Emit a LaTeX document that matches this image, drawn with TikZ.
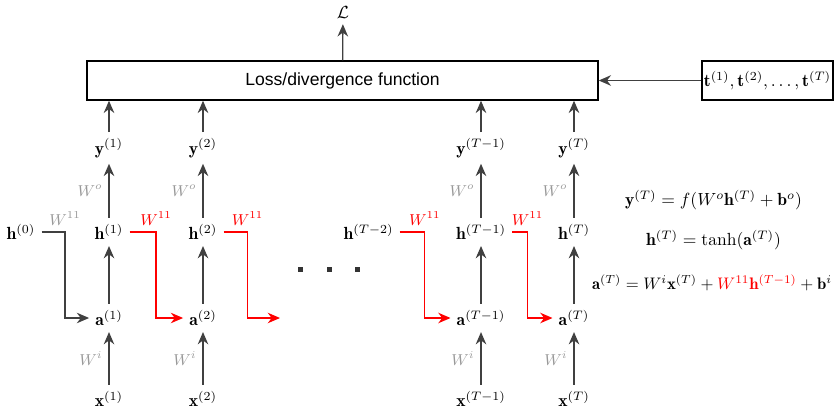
\documentclass[tikz,border=0pt]{standalone}
\usepackage{amsmath, amssymb, bm}
\usepackage{fontspec}
\newfontfamily\losssans{Liberation Sans}
\usetikzlibrary{positioning, arrows.meta, calc}

\begin{document}
\begin{tikzpicture}[
			boxnode/.style={draw, thick, rectangle, minimum height=0.78cm, align=center},
			arrow/.style={-{Stealth[length=7pt, width=6pt]}, line width=0.75pt, black!75},
			recarrow/.style={-{Stealth[length=7pt, width=6pt]}, line width=0.75pt, red},
			wlabel/.style={font=\small, text=black!40},
			rlabel/.style={font=\small, text=red},
			dotbox/.style={fill=black!80, minimum size=0.1cm, inner sep=0pt}
			]
			\useasboundingbox (0,0) rectangle (16.72,8.22);
			
			% Inputs
			\node (x1) at (2.18, 0.24) {$\mathbf{x}^{(1)}$};
			\node (x2) at (4.06, 0.24) {$\mathbf{x}^{(2)}$};
			\node (x3) at (9.62, 0.24) {$\mathbf{x}^{(T-1)}$};
			\node (x4) at (11.48, 0.24) {$\mathbf{x}^{(T)}$};
			
			% Pre-activations
			\node (a1) at (2.18, 1.86) {$\mathbf{a}^{(1)}$};
			\node (a2) at (4.06, 1.86) {$\mathbf{a}^{(2)}$};
			\node (a3) at (9.62, 1.86) {$\mathbf{a}^{(T-1)}$};
			\node (a4) at (11.48, 1.86) {$\mathbf{a}^{(T)}$};
			\coordinate (anext) at (5.6, 1.86);
			
			% Hidden states
			\node (h0) at (0.42, 3.58) {$\mathbf{h}^{(0)}$};
			\node (h1) at (2.18, 3.58) {$\mathbf{h}^{(1)}$};
			\node (h2) at (4.06, 3.58) {$\mathbf{h}^{(2)}$};
			\node (hprev) at (7.37, 3.58) {$\mathbf{h}^{(T-2)}$};
			\node (h3) at (9.62, 3.58) {$\mathbf{h}^{(T-1)}$};
			\node (h4) at (11.48, 3.58) {$\mathbf{h}^{(T)}$};
			\coordinate (hnext) at (5.84, 3.58);
			
			% Outputs
			\node (y1) at (2.18, 5.26) {$\mathbf{y}^{(1)}$};
			\node (y2) at (4.06, 5.26) {$\mathbf{y}^{(2)}$};
			\node (y3) at (9.62, 5.26) {$\mathbf{y}^{(T-1)}$};
			\node (y4) at (11.48, 5.26) {$\mathbf{y}^{(T)}$};
			
			% Loss and targets
			\node[boxnode, minimum width=10.22cm, font=\losssans] (loss) at (6.85, 6.61) {Loss/divergence function};
			\node[boxnode, minimum width=2.58cm, inner sep=1pt] (tgt) at (15.35, 6.61) {$\mathbf{t}^{(1)},\mathbf{t}^{(2)},\ldots,\mathbf{t}^{(T)}$};
			\node (lossout) at (6.86, 7.98) {$\mathcal{L}$};
			
			% Dots
			\node[dotbox] (dot1) at (6.0, 2.84) {};
			\node[dotbox] (dot2) at (6.58, 2.84) {};
			\node[dotbox] (dot3) at (7.14, 2.84) {};
			
			% Equations
			\node (eqy) at (14.27, 4.22) {$\mathbf{y}^{(T)} = f(W^o\mathbf{h}^{(T)} + \mathbf{b}^o)$};
			\node (eqh) at (14.27, 3.42) {$\mathbf{h}^{(T)} = \tanh(\mathbf{a}^{(T)})$};
			\node[anchor=east, inner sep=1pt, scale=0.95] (eqa) at (16.68, 2.56) {$\mathbf{a}^{(T)} = W^i\mathbf{x}^{(T)} + \textcolor{red}{W^{11}\mathbf{h}^{(T-1)}} + \mathbf{b}^i$};
			
			% Input arrows
			\draw[arrow] (x1) -- (a1) node[midway, left, wlabel] {$W^i$};
			\draw[arrow] (x2) -- (a2) node[midway, left, wlabel] {$W^i$};
			\draw[arrow] (x3) -- (a3) node[midway, left, wlabel] {$W^i$};
			\draw[arrow] (x4) -- (a4) node[midway, left, wlabel] {$W^i$};
			
			% Activation arrows
			\draw[arrow] (a1) -- (h1);
			\draw[arrow] (a2) -- (h2);
			\draw[arrow] (a3) -- (h3);
			\draw[arrow] (a4) -- (h4);
			
			% Output arrows
			\draw[arrow] (h1) -- (y1) node[midway, left, wlabel] {$W^o$};
			\draw[arrow] (h2) -- (y2) node[midway, left, wlabel] {$W^o$};
			\draw[arrow] (h3) -- (y3) node[midway, left, wlabel] {$W^o$};
			\draw[arrow] (h4) -- (y4) node[midway, left, wlabel] {$W^o$};
			
			% Into the loss
			\draw[arrow] (y1) -- (y1 |- loss.south);
			\draw[arrow] (y2) -- (y2 |- loss.south);
			\draw[arrow] (y3) -- (y3 |- loss.south);
			\draw[arrow] (y4) -- (y4 |- loss.south);
			\draw[arrow] (tgt) -- (loss);
			\draw[arrow] (loss) -- (lossout);
			
			% Recurrent links
			\draw[arrow] (h0.east) -- ($(h0)!0.5!(h1)$) node[above, wlabel] {$W^{11}$} |- (a1.west);
			\draw[recarrow] (h1.east) -- ($(h1)!0.5!(h2)$) node[above, rlabel] {$W^{11}$} |- (a2.west);
			\draw[recarrow] (h2.east) -- ($(h2)!0.5!(hnext)$) node[above, rlabel] {$W^{11}$} |- (anext);
			\draw[recarrow] (hprev.east) -- ($(hprev)!0.5!(h3)$) node[above, rlabel] {$W^{11}$} |- (a3.west);
			\draw[recarrow] (h3.east) -- ($(h3)!0.5!(h4)$) node[above, rlabel] {$W^{11}$} |- (a4.west);
		\end{tikzpicture}
\end{document}
